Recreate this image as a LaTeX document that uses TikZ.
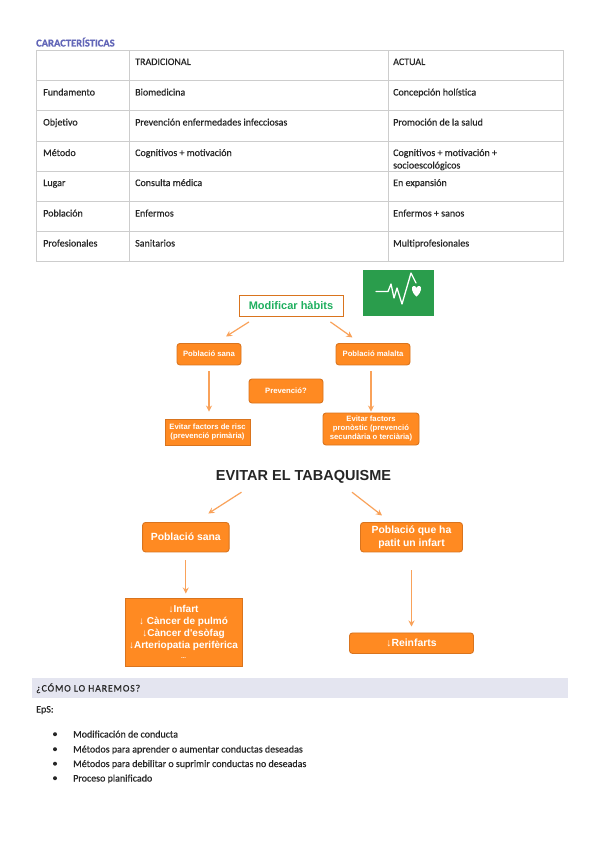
\documentclass[tikz,border=0pt]{standalone}
\usepackage{fontspec}
\setmainfont{Carlito}[RawFeature={embolden=0.45}]
\newfontfamily\lib{Liberation Sans}
\newfontfamily\carb{Carlito Bold}
\newfontfamily\carsp{Carlito}[LetterSpace=9,RawFeature={embolden=0.45}]
\definecolor{orfill}{HTML}{FF8A22}
\definecolor{orline}{HTML}{D9741E}
\definecolor{orarrow}{HTML}{F9A25A}
\definecolor{gridc}{HTML}{CDCDCD}
\definecolor{headc}{HTML}{6266B8}
\definecolor{bandc}{HTML}{E4E5F0}
\definecolor{greenb}{HTML}{2A9D4C}
\definecolor{greent}{HTML}{1FAF5F}
\definecolor{textc}{HTML}{262626}
\usetikzlibrary{arrows.meta}
\tikzset{
 x=1pt,y=-1pt,
 tcell/.style={anchor=base west,inner sep=0pt,text=textc,font=\fontsize{10}{12}\selectfont,align=left},
 box/.style={draw=orline,fill=orfill,line width=.9pt,rounded corners=3pt,text=white,inner sep=0pt,align=center,minimum width=#1},
 sbox/.style={box=#1,rounded corners=0pt},
 small/.style={font=\lib\bfseries\fontsize{7.7}{9}\selectfont},
 big/.style={font=\lib\bfseries\fontsize{10.4}{12.6}\selectfont},
 arr/.style={draw=orarrow,line width=1.2pt,-{Stealth[length=6pt,width=6pt]}},
}
\begin{document}
\begin{tikzpicture}
\useasboundingbox (0,0) rectangle (599,848);
\fill[white] (0,0) rectangle (599,848);
% heading
\node[tcell,text=headc,font=\bfseries\fontsize{10.5}{12}\selectfont] (caract) at (36,46.5) {CARACTERÍSTICAS};
% table grid
\draw[gridc,line width=1pt] (36.5,50.5) rectangle (563.5,261);
\foreach \yy in {81,111,141,171,201,231}{\draw[gridc,line width=1pt] (36.5,\yy) -- (563.5,\yy);}
\draw[gridc,line width=1pt] (129,50.5) -- (129,261);
\draw[gridc,line width=1pt] (388,50.5) -- (388,261);
% table text
\node[tcell] (h1) at (135,65) {TRADICIONAL};
\node[tcell] (h2) at (393,65) {ACTUAL};
\node[tcell] (r1) at (43,95.5) {Fundamento};
\node[tcell] (r1a) at (135,95.5) {Biomedicina};
\node[tcell] (r1b) at (393,95.5) {Concepción holística};
\node[tcell] (r2) at (43,125.5) {Objetivo};
\node[tcell] (r2a) at (135,125.5) {Prevención enfermedades infecciosas};
\node[tcell] (r2b) at (393,125.5) {Promoción de la salud};
\node[tcell] (r3) at (43,156) {Método};
\node[tcell] (r3a) at (135,156) {Cognitivos + motivación};
\node[tcell] (r3b) at (393,156) {Cognitivos + motivación +};
\node[tcell] (r3c) at (393,168.5) {socioescológicos};
\node[tcell] (r4) at (43,186) {Lugar};
\node[tcell] (r4a) at (135,186) {Consulta médica};
\node[tcell] (r4b) at (393,186) {En expansión};
\node[tcell] (r5) at (43,216.5) {Población};
\node[tcell] (r5a) at (135,216.5) {Enfermos};
\node[tcell] (r5b) at (393,216.5) {Enfermos + sanos};
\node[tcell] (r6) at (43,246.5) {Profesionales};
\node[tcell] (r6a) at (135,246.5) {Sanitarios};
\node[tcell] (r6b) at (393,246.5) {Multiprofesionales};
% icon
\fill[greenb] (363,269.5) rectangle (434,316);
\draw[white,line width=1.3pt,line join=round,line cap=round] (376,291.5) -- (388,291.5) -- (391,284) -- (394,298) -- (397,288) -- (402,304) -- (411,273) -- (416,283);
\fill[white] (416.5,296.5) .. controls (411,292) and (411,286.5) .. (413.5,286) .. controls (415,285.7) and (416,286.5) .. (416.5,288) .. controls (417,286.5) and (418,285.7) .. (419.5,286) .. controls (422,286.5) and (422,292) .. (416.5,296.5);
% first diagram
\node[draw=orline,fill=white,line width=.8pt,minimum width=104pt,minimum height=21pt,inner sep=0pt,text=greent,font=\lib\bfseries\fontsize{11}{13}\selectfont] (mh) at (291,305.5) {Modificar hàbits};
\node[box=64pt,small,minimum height=21.5pt] (ps) at (209,354.2) {Població sana};
\node[box=74pt,small,minimum height=21.5pt] (pm) at (373,354.2) {Població malalta};
\node[box=74pt,small,minimum height=24pt] (pv) at (286,391) {Prevenció?};
\node[sbox=85pt,small,minimum height=26pt] (ef) at (207.5,432) {Evitar factors de risc\\(prevenció primària)};
\node[box=96pt,small,minimum height=32pt] (ep) at (371,429) {Evitar factors\\pronòstic (prevenció\\secundària o terciària)};
\draw[arr] ([shift={(-42,5.5)}]mh.south) -- ([shift={(17,-6.5)}]ps.north);
\draw[arr] ([shift={(-13,5.5)}]mh.south east) -- ([shift={(-58,-5.5)}]pm.north east);
\draw[arr] ([yshift=-6pt]ps.south) -- ([yshift=7pt]ef.north -| ps.south);
\draw[arr] ([yshift=-6pt]pm.south -| ep.north) -- ([yshift=1pt]ep.north);
% second diagram
\node[inner sep=0pt,text=black!85,font=\lib\bfseries\fontsize{14.5}{17}\selectfont] (ev) at (303.5,476.5) {EVITAR EL TABAQUISME};
\node[box=86.5pt,big,minimum height=29.5pt] (ps2) at (185.8,537.2) {Població sana};
\node[box=102pt,big,minimum height=29.5pt] (pq) at (411.5,537.2) {Població que ha\\patit un infart};
\node[sbox=117pt,big,minimum height=68pt,font=\lib\bfseries\fontsize{10}{11.9}\selectfont] (inf) at (183.5,632) {↓Infart\\↓ Càncer de pulmó\\↓Càncer d'esòfag\\↓Arteriopatia perifèrica\\[-1pt]{\fontsize{6}{6}\selectfont ...}};
\node[box=124pt,big,minimum height=20.5pt] (rf) at (411.5,643.2) {↓Reinfarts};
\draw[arr] ([shift={(-62,9)}]ev.south) -- ([shift={(22.5,-8.5)}]ps2.north);
\draw[arr] ([shift={(48.5,9)}]ev.south) -- ([shift={(-29.5,-6.5)}]pq.north);
\draw[arr] ([yshift=-8pt]ps2.south) -- ([yshift=4pt]ps2.south |- inf.north);
\draw[arr] ([yshift=-18pt]pq.south) -- ([yshift=6pt]rf.north);
% lower section
\fill[bandc] (32,678) rectangle (568,698);
\node[tcell,font=\carsp\fontsize{9.8}{12}\selectfont] (como) at (36,691.5) {¿CÓMO LO HAREMOS?};
\node[tcell] (eps) at (36,712.5) {EpS:};
\foreach \nm/\yy/\tx in {a/737.5/Modificación de conducta,b/752.5/Métodos para aprender o aumentar conductas deseadas,c/767/Métodos para debilitar o suprimir conductas no deseadas,d/781.5/Proceso planificado}{
  \fill[textc] (55,\yy-3.3) circle (2pt);
  \node[tcell] (li\nm) at (73,\yy) {\tx};
}
\end{tikzpicture}
\end{document}
